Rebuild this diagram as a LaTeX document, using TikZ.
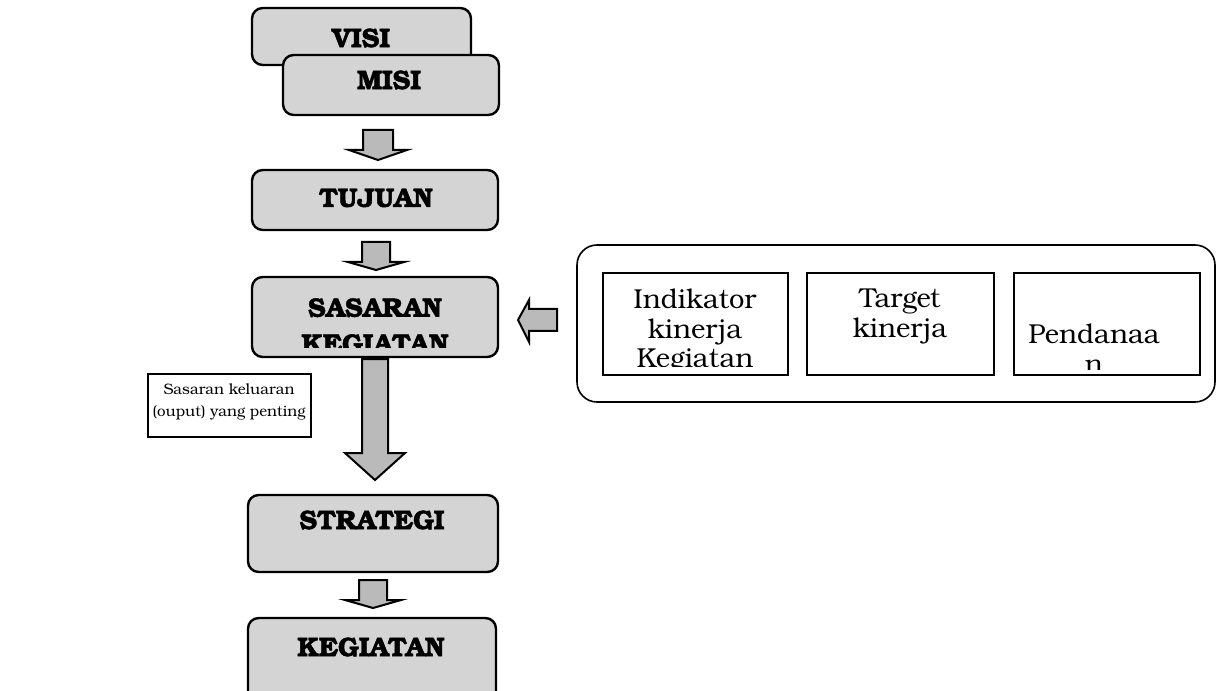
\documentclass[tikz,border=0pt]{standalone}
\usepackage{fontspec}
\setmainfont{TeX Gyre Bonum}
\newfontfamily\headfont{TeX Gyre Bonum}[BoldFeatures={FakeBold=1.6}]
\usetikzlibrary{fit,calc}
\newcommand{\blockdown}[6]{% x center, top y, shaft bottom y, tip y, shaft half, head half
  \draw[barrow] (#1-#5,#2) -- (#1+#5,#2) -- (#1+#5,#3) -- (#1+#6,#3) -- (#1,#4) -- (#1-#6,#3) -- (#1-#5,#3) -- cycle;}
\begin{document}
\begin{tikzpicture}[x=0.75pt,y=-0.75pt,
  hbox/.style={draw=black, line width=1.8pt, rounded corners=8pt, fill=black!17, inner sep=0pt},
  htext/.style={font=\headfont\fontsize{20}{27}\selectfont\bfseries, align=center, inner sep=0pt},
  barrow/.style={draw=black, line width=1.5pt, fill=black!27, line join=miter},
  ibox/.style={draw=black, line width=1.2pt, inner sep=0pt},
  itext/.style={font=\fontsize{20.5}{22}\selectfont, align=center, inner sep=0pt},
  stext/.style={font=\fontsize{11.3}{17}\selectfont, align=center, inner sep=0pt},
]
\useasboundingbox (0,0) rectangle (1216,691);

% left column boxes
\node[hbox, fit={(252,8)(471,65)}] (visi) {};
\node[htext] (visitext) at (361,38) {VISI};
\node[hbox, fit={(283,55)(499,115)}] (misi) {};
\node[htext] (misitext) at (389,80) {MISI};

\node[hbox, fit={(252,170)(498,230)}] (tujuan) {};
\node[htext] (tujuantext) at (376,198) {TUJUAN};

\node[hbox, fit={(252,277)(498,357)}] (sasaran) {};
\begin{scope}
  \clip (253,278) rectangle (497,347);
  \node[htext, anchor=north] (sasarantext) at (375,298) {SASARAN\\KEGIATAN};
\end{scope}

\node[hbox, fit={(248,495)(498,572)}] (strategi) {};
\node[htext] (strategitext) at (372,520) {STRATEGI};

\node[hbox, fit={(248,618)(496,710)}] (kegiatan) {};
\node[htext] (kegiatantext) at (371,647) {KEGIATAN};

% side note
\node[draw=black, line width=1.1pt, inner sep=0pt, fit={(148,374)(311,437)}] (note) {};
\node[stext] (notetext) at (229,402) {Sasaran keluaran\\(ouput) yang penting};

% block arrows
\blockdown{378}{130}{150}{160}{15}{29}
\blockdown{376}{242}{262}{270}{14}{28}
\blockdown{375}{359}{453}{480}{13}{30}
\blockdown{373}{580}{600}{608}{14}{28}
\draw[barrow] (557,309) -- (529,309) -- (529,300) -- (518,320) -- (529,342) -- (529,331) -- (557,331) -- cycle;

% right group
\node[draw=black, line width=1.2pt, rounded corners=15pt, inner sep=0pt, fit={(577,245)(1215,402)}] (group) {};
\node[ibox, fit={(603,273)(788,375)}] (ind) {};
\node[ibox, fit={(807,273)(994,375)}] (tgt) {};
\node[ibox, fit={(1014,273)(1200,375)}] (dana) {};
\begin{scope}
  \clip (604,274) rectangle (787,366);
  \node[itext, anchor=north] (indtext) at (695,289) {Indikator\\kinerja\\Kegiatan};
\end{scope}
\node[itext, anchor=north] (tgttext) at (900,289) {Target\\kinerja};
\begin{scope}
  \clip (1015,274) rectangle (1199,369);
  \node[itext, anchor=north] (danatext) at (1094,324) {Pendanaa\\n};
\end{scope}
\end{tikzpicture}
\end{document}
